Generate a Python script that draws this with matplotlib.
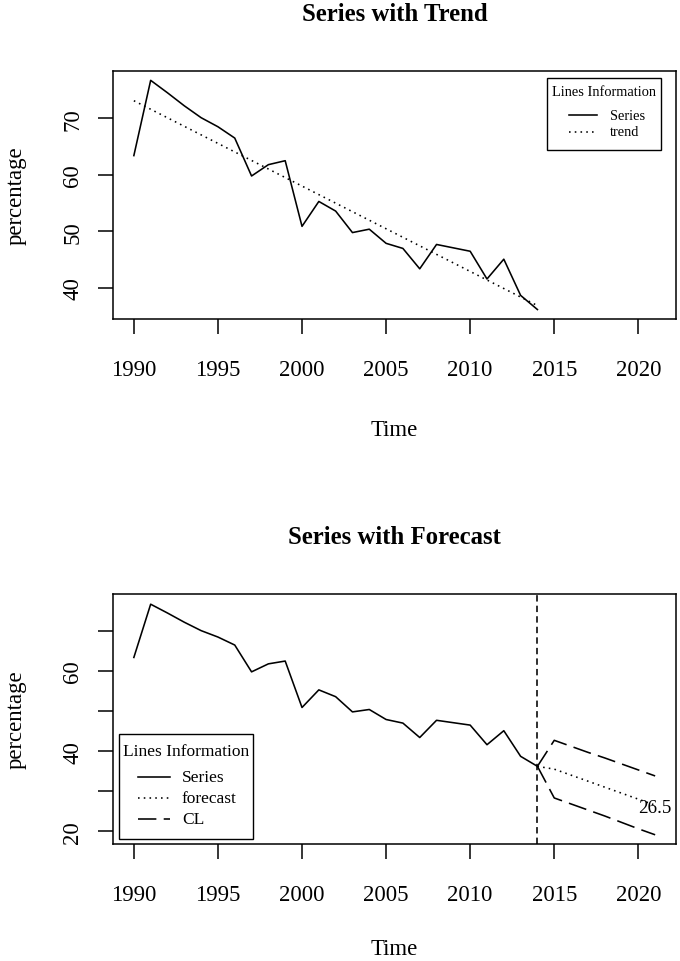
import numpy as np
import matplotlib
matplotlib.use("Agg")
import matplotlib.pyplot as plt
from matplotlib.lines import Line2D
from matplotlib.patches import Rectangle

plt.rcParams['font.family'] = ['Liberation Serif', 'DejaVu Serif']

# datos
years = list(range(1990, 2015))
series = [63.4, 76.7, 74.5, 72.2, 70.1, 68.5, 66.5, 59.8, 61.8, 62.5,
          50.9, 55.3, 53.6, 49.8, 50.4, 47.9, 47.0, 43.4, 47.7, 47.1,
          46.5, 41.6, 45.1, 38.7, 36.2]
trend_years = [1990, 2014]
trend_vals = [73.1, 36.9]

fc_years = list(range(2014, 2022))
forecast = [36.2, 35.5, 34.0, 32.5, 31.0, 29.5, 28.0, 26.5]
upper_cl = [36.2, 42.7, 41.2, 39.7, 38.3, 36.8, 35.3, 33.8]
lower_cl = [36.2, 28.3, 26.8, 25.3, 23.8, 22.2, 20.6, 19.1]
last_label = "26.5"

x_ticks = [1990, 1995, 2000, 2005, 2010, 2015, 2020]
top_yticks = [40, 50, 60, 70]
bot_yticks = [20, 30, 40, 50, 60, 70]
bot_ylabels = ['20', '', '40', '', '60', '']

W, H = 680, 962
lw = 1.15
dotted = (0, (1, 2.6))
cl_dash = (0, (11.5, 4.6))
vdash = (0, (4, 2.6))

fig = plt.figure(figsize=(W / 100, H / 100), dpi=100)
ax1 = fig.add_axes([113/W, 1 - 320/H, 563/W, 248/H])
ax2 = fig.add_axes([113/W, 1 - 845/H, 563/W, 250/H])


def px(x, y):
    # pixel de la imagen -> fraccion de figura
    return x / W, 1 - y / H


def style_axis(ax, title, yticks, ylabels, title_y, xlab_y):
    ax.set_xlim(1988.76, 2022.24)
    ax.set_xticks(x_ticks)
    ax.set_yticks(yticks)
    ax.set_yticklabels(ylabels, rotation=90, va='center')
    ax.tick_params(axis='both', direction='out', length=10.5, width=1.1,
                   labelsize=16.4, colors='black')
    ax.tick_params(axis='x', pad=18)
    ax.tick_params(axis='y', pad=11)
    for s in ax.spines.values():
        s.set_linewidth(1.1)
    ax.set_xlabel('Time', fontsize=16.4)
    ax.set_ylabel('percentage', fontsize=16.4)
    ax.xaxis.set_label_coords(0.5, xlab_y)
    ax.yaxis.set_label_coords(-0.172, 0.5)
    ax.xaxis.label.set_va('center')
    ax.yaxis.label.set_va('center')
    ax.text(0.5, title_y, title, transform=ax.transAxes, ha='center', va='center',
            fontsize=17.8, fontweight='bold')


def legend_box(box, title_y, line_x, text_x, rows, size):
    # leyenda al estilo de R: caja, titulo centrado y lineas
    x0, y0, x1, y1 = box
    fx0, fy1 = px(x0, y1)
    fx1, fy0 = px(x1, y0)
    fig.add_artist(Rectangle((fx0, fy1), fx1 - fx0, fy0 - fy1, transform=fig.transFigure,
                             facecolor='white', edgecolor='black', lw=1.0, zorder=5))
    tx, ty = px((x0 + x1) / 2, title_y)
    fig.text(tx, ty, 'Lines Information', ha='center', va='center', fontsize=size, zorder=6)
    for y, label, ls in rows:
        a = px(line_x[0], y)
        b = px(line_x[1], y)
        fig.add_artist(Line2D([a[0], b[0]], [a[1], b[1]], transform=fig.transFigure,
                              color='black', lw=lw, linestyle=ls, zorder=6))
        lx, ly = px(text_x, y)
        fig.text(lx, ly, label, ha='left', va='center', fontsize=size, zorder=6)


# grafico 1: serie con tendencia
ax1.plot(years, series, color='black', lw=lw)
ax1.plot(trend_years, trend_vals, color='black', lw=lw, linestyle=dotted)
ax1.set_ylim(34.53, 78.35)
style_axis(ax1, 'Series with Trend', top_yticks, [str(t) for t in top_yticks], 1.233, -0.446)
legend_box((546.7, 79, 660.7, 150.7), 93, (569, 597), 610,
           [(116, 'Series', '-'), (133, 'trend', dotted)], 10.4)

# grafico 2: serie con pronostico
ax2.plot(years, series, color='black', lw=lw)
ax2.plot(fc_years, forecast, color='black', lw=lw, linestyle=dotted)
ax2.plot(fc_years, upper_cl, color='black', lw=lw, linestyle=cl_dash)
ax2.plot(fc_years, lower_cl, color='black', lw=lw, linestyle=cl_dash)
ax2.axvline(years[-1], color='black', lw=lw, linestyle=vdash)
ax2.annotate(last_label, (fc_years[-1], forecast[-1]), xytext=(0, -2),
             textcoords='offset points', ha='center', va='center', fontsize=13.7)
ax2.set_ylim(16.8, 79.25)
style_axis(ax2, 'Series with Forecast', bot_yticks, bot_ylabels, 1.229, -0.417)
legend_box((119, 735, 252.7, 840), 752, (138, 170), 182,
           [(778, 'Series', '-'), (799, 'forecast', dotted), (820, 'CL', cl_dash)], 12.5)

fig.savefig('out.png', dpi=100)
